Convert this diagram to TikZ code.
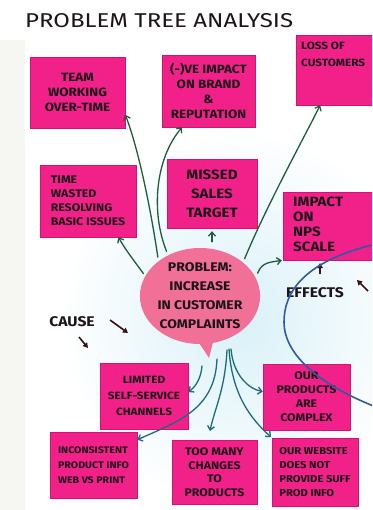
\documentclass[tikz,border=0pt]{standalone}
\usepackage{fontspec}
\setmainfont{Fira Sans}
\newfontfamily\hand[FakeStretch=1.12]{Fira Sans}
\newfontfamily\handwide[FakeStretch=1.2]{Fira Sans}
\usetikzlibrary{arrows.meta,shapes.geometric}
\definecolor{notepink}{HTML}{F2218A}
\definecolor{noteedge}{HTML}{D0156F}
\definecolor{bubble}{HTML}{F07098}
\definecolor{ink}{HTML}{1C1418}
\definecolor{effgreen}{HTML}{1F5C3C}
\definecolor{causeteal}{HTML}{1B6C78}
\definecolor{markblue}{HTML}{2F5BA0}
\definecolor{markbrown}{HTML}{3A1212}
\definecolor{glow}{HTML}{D9F1F8}
\definecolor{paperedge}{HTML}{F6F6F3}
\newcommand{\hs}[2]{\hand\bfseries\fontsize{#1}{#2}\selectfont}
\begin{document}
\begin{tikzpicture}[x=1pt,y=-1pt,
  note/.style={rectangle, fill=notepink, draw=noteedge, line width=0.4pt, inner sep=2pt, text=ink, align=center},
  garrow/.style={draw=effgreen, line width=1.3pt, line cap=round, -{Straight Barb[length=4pt,width=7pt]}},
  tarrow/.style={draw=causeteal, line width=1.3pt, line cap=round, -{Straight Barb[length=4pt,width=7pt]}},
  markarrow/.style={draw=markbrown, line width=1.6pt, -{Triangle[length=5pt,width=5.5pt]}},
  lbl/.style={text=ink, inner sep=1pt}
]
\useasboundingbox (0,0) rectangle (372,510);
\clip (0,0) rectangle (372,510);
\fill[white] (0,0) rectangle (372,510);
\fill[paperedge] (0,40) rectangle (25,510);
\shade[inner color=glow, outer color=white] (240,320) ellipse [x radius=180pt, y radius=190pt];

% title
\node[lbl, anchor=west, font=\handwide\fontsize{20}{24}\selectfont] (title) at (24,21) {PROBLEM TREE ANALYSIS};

% effect notes
\node[note, minimum width=95pt, minimum height=71pt, font=\hs{12}{15}] (team) at (77.5,92.5) {TEAM\\WORKING\\OVER-TIME};
\node[note, minimum width=93pt, minimum height=72pt, font=\hs{12}{15}] (brand) at (208.5,91) {(-)VE IMPACT\\ON BRAND\\\&\\REPUTATION};
\node[note, minimum width=84pt, minimum height=70pt] (loss) at (338,70) {};
\node[lbl, anchor=north west, align=left, font=\hs{10.5}{17}] (lossT) at (300,41) {LOSS OF\\CUSTOMERS};
\node[note, minimum width=96pt, minimum height=72pt, font=\hs{11}{14}, align=left] (time) at (88,201) {TIME\\WASTED\\RESOLVING\\BASIC ISSUES};
\node[note, minimum width=90pt, minimum height=69pt, font=\hs{13.5}{19}] (sales) at (212,193.5) {MISSED\\SALES\\TARGET};
\node[note, minimum width=94pt, minimum height=68pt] (nps) at (330,226) {};
\node[lbl, anchor=north west, align=left, font=\hs{13.5}{15}] (npsT) at (292,196) {IMPACT\\ON\\NPS\\SCALE};

% cause notes
\node[note, minimum width=88pt, minimum height=66pt, font=\hs{10.5}{16}] (limited) at (144,396) {LIMITED\\SELF-SERVICE\\CHANNELS};
\node[note, minimum width=87pt, minimum height=66pt, font=\hs{11}{14}] (complex) at (306.5,397) {OUR\\PRODUCTS\\ARE\\COMPLEX};
\node[note, minimum width=87pt, minimum height=66pt, font=\hs{9.5}{15}, align=left] (incons) at (93.5,465) {INCONSISTENT\\PRODUCT INFO\\WEB VS PRINT};
\node[note, minimum width=85pt, minimum height=64pt, font=\hs{11}{13.5}] (toomany) at (214.5,472) {TOO MANY\\CHANGES\\TO\\PRODUCTS};
\node[note, minimum width=86pt, minimum height=68pt, font=\hs{10}{14}, align=left] (website) at (315,472) {OUR WEBSITE\\DOES NOT\\PROVIDE SUFF\\PROD INFO};

% problem bubble
\fill[bubble] (191,334) .. controls (200,344) .. (209,358) -- (215,334) -- cycle;
\node[ellipse, fill=bubble, minimum width=114pt, minimum height=96pt, inner sep=0pt, align=center, text=ink, font=\hs{12.5}{19}] (prob) at (200,296) {PROBLEM:\\INCREASE\\IN CUSTOMER\\COMPLAINTS};

% effect arrows
\draw[garrow, shorten <=4pt] (prob.140) .. controls +(-8,-55) and +(12,30) .. (team.-25);
\draw[garrow, shorten <=4pt] (prob.128) .. controls +(-18,-45) and +(-26,30) .. (brand.-126);
\draw[garrow, shorten <=4pt] (prob.38) .. controls +(25,-60) and +(-12,25) .. (loss.-117);
\draw[garrow, shorten <=3pt] (prob.160) .. controls +(-10,-14) and +(8,14) .. (time.-50);
\draw[garrow, shorten <=6pt, shorten >=3pt] (sales.south |- prob.north) -- (sales.south);
\draw[garrow, shorten <=5pt, shorten >=1pt] (prob.18) .. controls +(6,-16) and +(-12,2) .. (nps.south west);

% cause arrows
\coordinate (r1) at (202,366);
\coordinate (r2) at (217,359);
\coordinate (r3) at (227,350);
\coordinate (r4) at (229,349);
\coordinate (r5) at (231,349);
\draw[tarrow] (r1) .. controls +(-1,12) and +(8,-6) .. (limited.5);
\draw[tarrow] (r2) .. controls +(-2,51) and +(40,-18) .. (incons.30);
\draw[tarrow, shorten >=9pt] (r3) .. controls +(-2,40) and +(6,-30) .. (toomany.101);
\draw[tarrow, shorten >=1pt] (r4) .. controls +(3,45) and +(-22,-20) .. (website.north west);
\draw[tarrow] (r5) .. controls +(2,25) and +(-15,-3) .. (complex.173);

% labels
\node[lbl, font=\hs{14}{16}] (cause) at (72,322) {CAUSE};
\node[lbl, font=\hs{14}{16}] (effects) at (315,293) {EFFECTS};
\coordinate (ca1) at (110,320);
\coordinate (ca2) at (128,333);
\coordinate (cb1) at (79,337);
\coordinate (cb2) at (88,348);
\coordinate (ea1) at (320,274);
\coordinate (ea2) at (320,263);
\coordinate (eb1) at (368,291);
\coordinate (eb2) at (357,280);
\draw[markarrow] (ca1) -- (ca2);
\draw[markarrow] (cb1) -- (cb2);
\draw[markarrow] (ea1) -- (ea2);
\draw[markarrow] (eb1) -- (eb2);

% blue marker curve
\draw[markblue, line width=1.6pt] (376,244) .. controls (300,262) and (284,295) .. (284,322) .. controls (284,355) and (320,385) .. (376,407);
\end{tikzpicture}
\end{document}
